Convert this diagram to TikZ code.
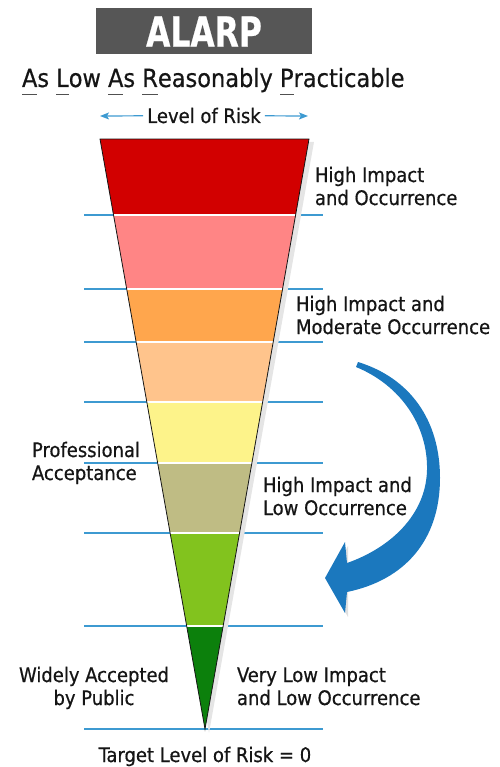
\documentclass[tikz,border=0pt]{standalone}
\usepackage{fontspec}
\setmainfont{DejaVu Sans Condensed}[FakeBold=0.6]
\usetikzlibrary{arrows.meta}
\definecolor{ink}{HTML}{151515}
\definecolor{slate}{HTML}{565656}
\definecolor{rule}{HTML}{3D9AD1}
\definecolor{swoop}{HTML}{1B78BE}
\definecolor{bandA}{HTML}{D20000}
\definecolor{bandB}{HTML}{FF8585}
\definecolor{bandC}{HTML}{FFA64D}
\definecolor{bandD}{HTML}{FFC48C}
\definecolor{bandE}{HTML}{FDF38A}
\definecolor{bandF}{HTML}{BFBC84}
\definecolor{bandG}{HTML}{82C31E}
\definecolor{bandH}{HTML}{0C800C}
% underline the first letter of a word, at descender depth
\newcommand{\initial}[1]{\leavevmode\setbox0=\hbox{#1}\rlap{\color{ink!75}\rule[-8pt]{\wd0}{1.2pt}}\box0}

\begin{document}
\begin{tikzpicture}[x=1pt,y=-1pt,
  every node/.style={inner sep=0pt,outer sep=0pt,text=ink},
  lbl/.style={font=\fontsize{20}{23}\selectfont,align=left,anchor=base west},
  sep/.style={draw=rule,line width=1.1pt},
  gap/.style={draw=white,line width=1.3pt},
  span/.style={draw=rule,line width=1.2pt,shorten <=4pt,-{Stealth[length=9pt,width=7pt,inset=2pt]}}]

\useasboundingbox (0,0) rectangle (499,767);

% ---- heading -------------------------------------------------------------
\node[fill=slate,minimum width=216pt,minimum height=46pt,text=white,
      font=\bfseries\fontsize{36}{36}\selectfont] (title) at (204,31.5)
  {\scalebox{0.97}[1.15]{ALARP}};
\node[anchor=base west,font=\fontsize{25}{30}\selectfont] (full) at (22,87)
  {\initial{A}s \initial{L}ow \initial{A}s \initial{R}easonably \initial{P}racticable};
\node[anchor=base,font=\fontsize{20}{24}\selectfont] (level) at (204,123) {Level of Risk};
\coordinate (lvlL) at (100,116);
\coordinate (lvlR) at (308,116);
\draw[span] (level) -- (lvlL);
\draw[span] (level) -- (lvlR);

% ---- level lines behind the wedge ----------------------------------------
\foreach \y in {215,289,342,402,463,533,626,729}
  \draw[sep] (84,\y) -- (323,\y);

% ---- wedge ---------------------------------------------------------------
\coordinate (tl) at (100,139);
\coordinate (tr) at (309,139);
\coordinate (tip) at (205,729);
\fill[black!10] (106,142) -- (314,142) -- (209,733) -- cycle;
\begin{scope}
  \clip (tl) -- (tr) -- (tip) -- cycle;
  \foreach \ya/\yb/\c in {139/215/bandA, 215/289/bandB, 289/342/bandC,
                          342/402/bandD, 402/463/bandE, 463/533/bandF,
                          533/626/bandG, 626/729/bandH}
    \fill[\c] (90,\ya) rectangle (320,\yb);
  \foreach \y in {215,289,342,402,463,533,626}
    \draw[gap] (90,\y) -- (320,\y);
\end{scope}
\draw[ink,line width=0.8pt,line join=miter] (tl) -- (tr) -- (tip) -- cycle;

% ---- labels (anchored on the last line) ----------------------------------
\node[lbl] (hiocc) at (315,205) {High Impact\\and Occurrence};
\node[lbl] (himod) at (296,334) {High Impact and\\Moderate Occurrence};
\node[lbl] (prof) at (32,480) {Professional\\Acceptance};
\node[lbl] (hilow) at (263,515) {High Impact and\\Low Occurrence};
\node[lbl,align=center,anchor=base] (public) at (94,705) {Widely Accepted\\by Public};
\node[lbl] (vlow) at (237,705) {Very Low Impact\\and Low Occurrence};
\node[anchor=base,font=\fontsize{20}{24}\selectfont] (target) at (205,762)
  {Target Level of Risk = 0};

% ---- swoop arrow ---------------------------------------------------------
\fill[black!12] (348,546) -- (328,582) -- (348,617) -- cycle;
\fill[swoop] (358,362) .. controls (410,378) and (440,420) .. (440,478)
  .. controls (440,540) and (405,580) .. (347,592)
  -- (345,613) -- (325,578) -- (345,542) -- (347,563)
  .. controls (390,548) and (426,515) .. (427,470)
  .. controls (428,425) and (400,385) .. (356,367) -- cycle;
\end{tikzpicture}
\end{document}
